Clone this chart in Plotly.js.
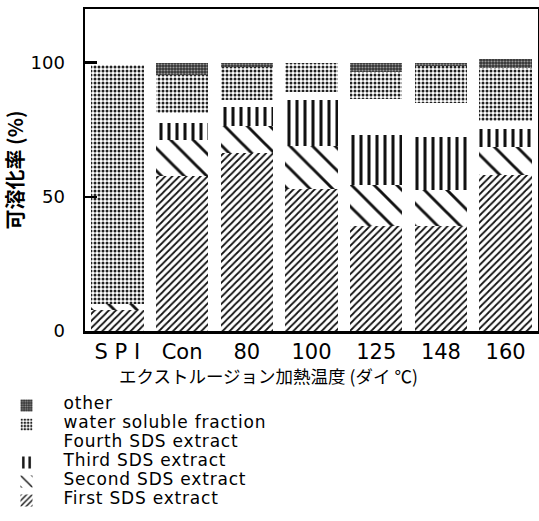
<!DOCTYPE html>
<html><head><meta charset="utf-8">
<script src="https://cdn.plot.ly/plotly-3.0.1.min.js"></script>
<style>html,body{margin:0;padding:0;background:#fff;}#chart{width:539px;height:521px;}</style>
</head><body><div id="chart"></div>
<script>
const categories = ["S P I", "Con", "80", "100", "125", "148", "160"];
const firstSDS  = [8, 57.8, 66.4, 53, 39.2, 39.2, 58.2];
const secondSDS = [2, 13.5, 10.1, 16, 15.3, 13.4, 10.5];
const thirdSDS  = [0, 6.3, 7.1, 17.2, 18.6, 19.8, 6.5];
const fourthSDS = [0, 3.7, 2.6, 3, 13.5, 12.7, 3];
const waterSol  = [89, 14, 12.3, 10.8, 10, 13.8, 19.8];
const other     = [0, 4.7, 1.5, 0, 3.4, 1.1, 3.3];
const yTicks = [0, 50, 100];
const seriesNames = ['First SDS extract', 'Second SDS extract', 'Third SDS extract',
  'Fourth SDS extract', 'water soluble fraction', 'other'];

const jp = '"Noto Sans CJK JP", sans-serif';
const dv = '"DejaVu Sans", sans-serif';

function tr(i, y, pat){
  return {type:'bar', name:'<span style="font-size:17px;letter-spacing:0.8px">' + seriesNames[i] + '</span>',
    x:categories, y:y,
    marker:{color:'#fff', line:{width:0}, pattern:pat}, hoverinfo:'skip'};
}
const data = [
  tr(0, firstSDS, {shape:'/', bgcolor:'#fff', fgcolor:'#111', size:5, solidity:0.35}),
  tr(1, secondSDS, {shape:'\\', bgcolor:'#fff', fgcolor:'#111', size:16, solidity:0.18}),
  tr(2, thirdSDS, {shape:'|', bgcolor:'#fff', fgcolor:'#111', size:8, solidity:0.38}),
  tr(3, fourthSDS, {shape:'', bgcolor:'#fff', fgcolor:'#fff'}),
  tr(4, waterSol, {shape:'.', bgcolor:'#fff', fgcolor:'#222', size:4, solidity:0.45}),
  tr(5, other, {shape:'.', bgcolor:'#333', fgcolor:'#999', size:3, solidity:0.4})
];

const layout = {
  width:539, height:521,
  margin:{l:85, r:1, t:9, b:190, autoexpand:false},
  paper_bgcolor:'#fff', plot_bgcolor:'#fff',
  barmode:'stack', bargap:0.19,
  showlegend:true,
  legend:{x:-0.2108, y:-0.186, xanchor:'left', yanchor:'top',
    traceorder:'reversed', font:{family:dv, size:10, color:'#000'}, itemwidth:64, bgcolor:'rgba(0,0,0,0)'},
  annotations:[{text:'エクストルージョン加熱温度 (ダイ ℃)', xref:'paper', yref:'paper',
    x:0.404, y:-0.138, xanchor:'center', yanchor:'middle', showarrow:false,
    font:{family:jp, size:17.5, color:'#000'}}],
  xaxis:{type:'category', showline:true, mirror:true, linewidth:2.5, linecolor:'#000', ticks:'',
    tickfont:{family:dv, size:21, color:'#000'}, ticklabelstandoff:0},
  yaxis:{range:[0,120], showline:true, mirror:true, linewidth:2.5, linecolor:'#000',
    tickvals:yTicks, ticktext:yTicks.map(String), ticks:'inside', ticklen:12, tickwidth:2.5, tickcolor:'#000',
    showgrid:false, zeroline:false, ticklabelstandoff:14,
    tickfont:{family:dv, size:18, color:'#000'},
    title:{text:'可溶化率 (%)', font:{family:jp, size:20, color:'#000', weight:'bold'}, standoff:2}}
};
Plotly.newPlot('chart', data, layout, {displayModeBar:false, staticPlot:true});
</script></body></html>
